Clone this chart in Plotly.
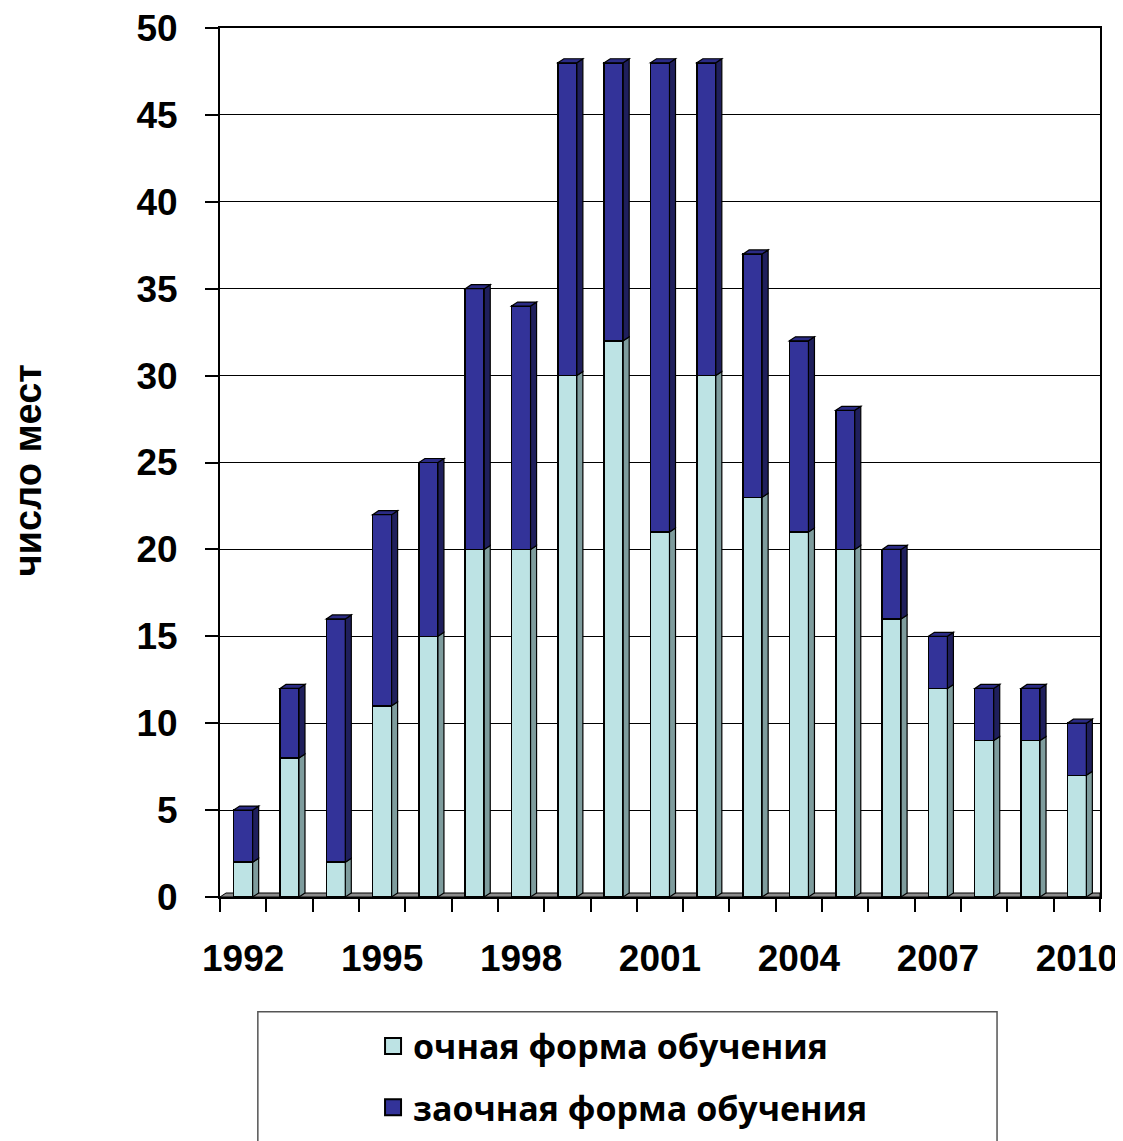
import plotly.graph_objects as go

years = list(range(1992, 2011))
full_time = [2, 8, 2, 11, 15, 20, 20, 30, 32, 21, 30, 23, 21, 20, 16, 12, 9, 9, 7]
part_time = [3, 4, 14, 11, 10, 15, 14, 18, 16, 27, 18, 14, 11, 8, 4, 3, 3, 3, 3]
label_years = [1992, 1995, 1998, 2001, 2004, 2007, 2010]
y_ticks = [0, 5, 10, 15, 20, 25, 30, 35, 40, 45, 50]

name_full = "очная форма обучения"
name_part = "заочная форма обучения"
y_title = "число мест"

C_LIGHT = "#bde3e4"
C_LIGHT_SIDE = "#7e9c9d"
C_DARK = "#333399"
C_DARK_SIDE = "#1f1f5c"
C_DARK_TOP = "#2b2b85"

W = 0.41         # bar front width (category units)
DX = 0.13        # depth offset in x (category units)
DY = 0.23        # depth offset in y (value units)

fig = go.Figure()
fig.add_trace(go.Bar(x=years, y=full_time, name=name_full, width=W, showlegend=False,
                     marker=dict(color=C_LIGHT, line=dict(color="black", width=1.5))))
fig.add_trace(go.Bar(x=years, y=part_time, name=name_part, width=W, showlegend=False,
                     marker=dict(color=C_DARK, line=dict(color="black", width=1.5))))
# legend entries (square swatches)
for nm, col, grp in [(name_full, C_LIGHT, "a"), (name_part, C_DARK, "b")]:
    fig.add_trace(go.Scatter(x=[None], y=[None], mode="markers", name=nm, legendgroup=grp,
                             marker=dict(symbol="square", size=16, color=col,
                                         line=dict(color="black", width=2))))

shapes = []
# floor
x_lo, x_hi = years[0] - 0.5, years[-1] + 0.5
shapes.append(dict(type="path", xref="x", yref="y", layer="below",
                   path=f"M {x_lo},0 L {x_lo+DX},{DY} L {x_hi},{DY} L {x_hi},0 Z",
                   fillcolor="#8c8c8c", line=dict(color="black", width=1)))


def side(x, y0, y1, color):
    xr = x + W / 2
    return dict(type="path", xref="x", yref="y", layer="above",
                path=f"M {xr},{y0} L {xr+DX},{y0+DY} L {xr+DX},{y1+DY} L {xr},{y1} Z",
                fillcolor=color, line=dict(color="black", width=1.2))


for x, a, b in zip(years, full_time, part_time):
    tot = a + b
    shapes.append(side(x, 0, a, C_LIGHT_SIDE))
    shapes.append(side(x, a, tot, C_DARK_SIDE))
    xl, xr = x - W / 2, x + W / 2
    shapes.append(dict(type="path", xref="x", yref="y", layer="above",
                       path=f"M {xl},{tot} L {xl+DX},{tot+DY} L {xr+DX},{tot+DY} L {xr},{tot} Z",
                       fillcolor=C_DARK_TOP, line=dict(color="black", width=1.2)))

# legend frame
shapes.append(dict(type="rect", xref="paper", yref="paper",
                   x0=0.043, x1=0.883, y0=-0.30, y1=-0.132,
                   line=dict(color="#555555", width=1.5), fillcolor="rgba(0,0,0,0)"))

AX_FONT = dict(family="Liberation Sans, Arial, sans-serif", size=37, color="black", weight="bold")

fig.update_layout(
    width=1115, height=1133,
    margin=dict(l=212, r=23, t=20, b=244),
    paper_bgcolor="white", plot_bgcolor="white",
    barmode="stack",
    showlegend=True,
    legend=dict(x=0.458, xanchor="center", xref="paper",
                y=0.109, yanchor="top", yref="container",
                orientation="v", traceorder="grouped", tracegroupgap=14,
                itemsizing="trace",
                font=dict(family="Open Sans, sans-serif", size=34, color="black", weight="bold"),
                bgcolor="rgba(0,0,0,0)"),
    shapes=shapes,
    annotations=[dict(text=y_title, xref="paper", yref="paper", x=-0.218, y=0.491,
                      xanchor="center", yanchor="middle", textangle=-90, showarrow=False,
                      font=dict(family="Liberation Sans, Arial, sans-serif", size=38,
                                color="black", weight="bold"))],
    xaxis=dict(range=[x_lo, x_hi], tickmode="array", tickvals=label_years,
               ticktext=[str(v) for v in label_years], ticks="", showgrid=False,
               zeroline=False, showline=True, linecolor="black", linewidth=1.5, mirror=True,
               tickfont=AX_FONT, ticklabelstandoff=28, automargin=False,
               ticklabeloverflow="allow",
               minor=dict(tick0=x_lo, dtick=1, ticks="outside", ticklen=13,
                          tickcolor="black", tickwidth=1.5, showgrid=False)),
    yaxis=dict(range=[0, 50], tickmode="array", tickvals=y_ticks, ticks="outside",
               ticklen=13, tickcolor="black", tickwidth=1.5, showgrid=True,
               gridcolor="black", gridwidth=1.2, zeroline=False, showline=True,
               linecolor="black", linewidth=2, mirror=True, automargin=False,
               ticklabeloverflow="allow",
               tickfont=AX_FONT, ticklabelstandoff=20),
)

fig.write_html("out.html")
